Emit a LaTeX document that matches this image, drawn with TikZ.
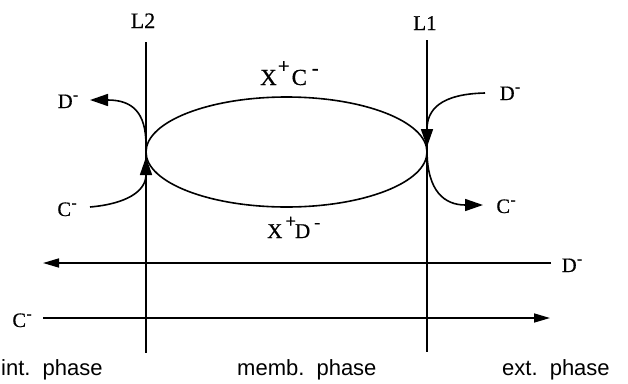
\documentclass[tikz,border=0pt]{standalone}
\usepackage{fontspec}
\setmainfont{Liberation Serif}[FakeBold=0.6]
\newfontfamily\sansf{Liberation Sans}
\usetikzlibrary{arrows.meta,shapes.geometric}
\newcommand\ionm{\kern0.5pt\raisebox{8.5pt}{\fontsize{15}{15}\selectfont -}}
\newcommand\upchar[3]{\raisebox{#1}{\fontsize{#2}{#2}\selectfont #3}}
\begin{document}
\begin{tikzpicture}[x=1pt,y=-1pt,
  ln/.style={line width=1.6pt},
  tipA/.style={-{Triangle[length=18pt,width=12pt]}},
  tipB/.style={-{Triangle[length=16pt,width=9pt]}},
  lab/.style={font=\fontsize{20.5}{22}\selectfont, inner sep=0pt, anchor=base},
  phase/.style={font=\sansf\fontsize{22}{24}\selectfont, inner sep=0pt, anchor=base west}]
\useasboundingbox (0,0) rectangle (628,383);
% membranes
\coordinate (L2t) at (146,42);
\coordinate (L2b) at (146,353);
\coordinate (L1t) at (427,40);
\coordinate (L1b) at (427,352);
\draw[ln] (L2t) -- (L2b);
\draw[ln] (L1t) -- (L1b);
\node[lab, font=\fontsize{22}{24}\selectfont] (l2) at (143,28) {L2};
\node[lab, font=\fontsize{21}{24}\selectfont] (l1) at (425,30) {L1};
% carrier cycle
\node[ellipse, draw, ln, inner sep=0pt, minimum width=281pt, minimum height=110pt] (ell) at (286.5,152) {};
\node[lab, anchor=base west, font=\fontsize{23}{24}\selectfont] (xc) at (260,85)
  {X\kern1pt\upchar{12pt}{21}{+}\kern2pt C\kern5pt\upchar{10.5pt}{20}{-}};
\node[lab, anchor=base west, font=\fontsize{21}{22}\selectfont] (xd) at (267,238)
  {X\kern3pt\upchar{10.5pt}{19}{+}\kern-1pt D\kern4pt\upchar{10pt}{18}{-}};
% left interface
\coordinate (cLs) at (90,207);
\coordinate (jLa) at (146,157);
\coordinate (jLb) at (146,145);
\coordinate (dLe) at (90,100);
\draw[ln,tipA] (cLs) .. controls (125,204) and (146,192) .. (jLa);
\draw[ln,tipA] (jLb) .. controls (146,112) and (132,100) .. (dLe);
\node[lab] (dL) at (68,108) {D\ionm};
\node[lab] (cL) at (67,216) {C\ionm};
% right interface
\coordinate (dRs) at (485,93);
\coordinate (jRa) at (427,147);
\coordinate (jRb) at (427,150);
\coordinate (cRe) at (483,205);
\draw[ln,tipA] (dRs) .. controls (440,94) and (427,110) .. (jRa);
\draw[ln,tipA] (jRb) .. controls (427,192) and (445,205) .. (cRe);
\node[lab] (dR) at (510,100) {D\ionm};
\node[lab] (cR) at (506,213) {C\ionm};
% bulk fluxes
\coordinate (dfs) at (551,263);
\coordinate (dfe) at (43,263);
\coordinate (cfs) at (43,318);
\coordinate (cfe) at (550,318);
\draw[ln,tipB] (dfs) -- (dfe);
\draw[ln,tipB] (cfs) -- (cfe);
\node[lab] (dF) at (572,272) {D\ionm};
\node[lab] (cF) at (22,327) {C\ionm};
% phases
\node[phase] (pi) at (1,375) {int.\hspace{0.55em}phase};
\node[phase] (pm) at (237,375) {memb.\hspace{0.55em}phase};
\node[phase] (pe) at (502,375) {ext.\hspace{0.55em}phase};
\end{tikzpicture}
\end{document}
